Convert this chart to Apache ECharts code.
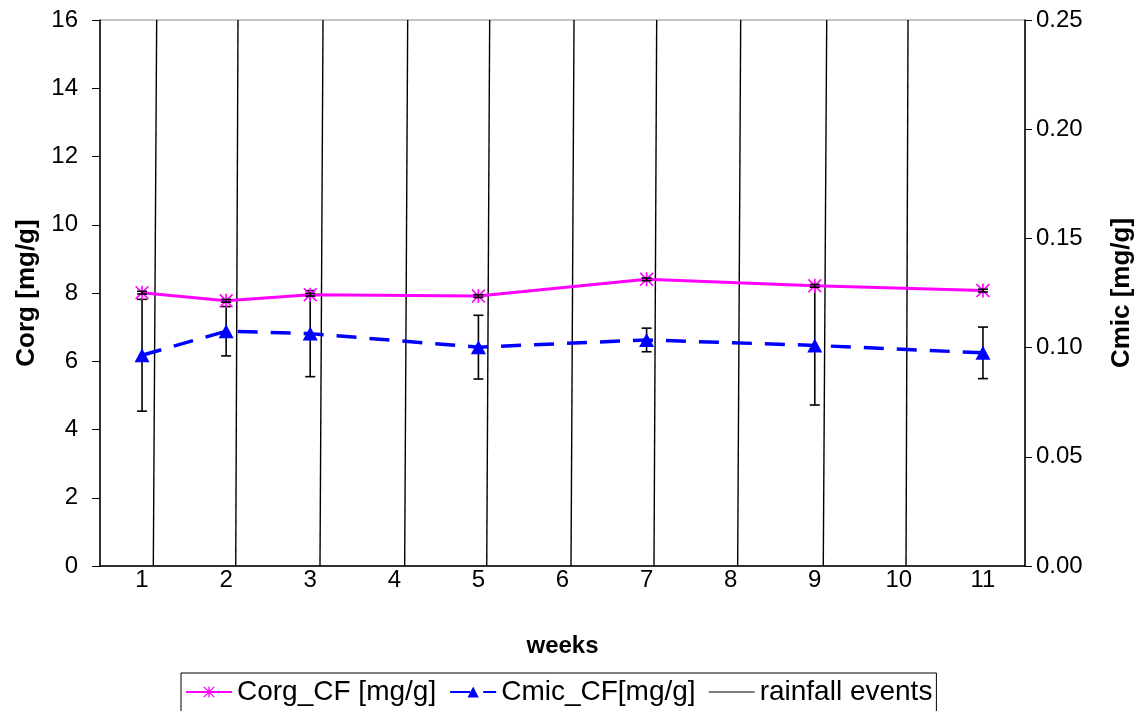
<!DOCTYPE html>
<html>
<head>
<meta charset="utf-8">
<script src="https://cdn.jsdelivr.net/npm/echarts@6/dist/echarts.min.js"></script>
<style>html,body{margin:0;padding:0;background:#fff;}#chart{width:1141px;height:711px;}</style>
</head>
<body>
<div id="chart"></div>
<script>
// ---- data ----
const weeks = ['1','2','3','4','5','6','7','8','9','10','11'];
const corg = [8.01, 7.77, 7.95, null, 7.91, null, 8.40, null, 8.21, null, 8.07];
const corgErr = [0.04, 0.04, 0.04, null, 0.04, null, 0.04, null, 0.04, null, 0.04];
const cmic = [0.0965, 0.1075, 0.1064, null, 0.1002, null, 0.1035, null, 0.1010, null, 0.0976];
const cmicErr = [0.0256, 0.0113, 0.0197, null, 0.0146, null, 0.0054, null, 0.0273, null, 0.0118];
// rainfall event lines: x position (in week units) at bottom (0) and top (16)
const rainBottom = [1.134, 2.114, 3.116, 4.123, 5.099, 6.101, 7.088, 8.083, 9.101, 10.085];
const rainTop    = [1.174, 2.141, 3.152, 4.159, 5.134, 6.137, 7.120, 8.119, 9.142, 10.109];
const leftTicks = {min: 0, max: 16, interval: 2};
const rightTicks = {min: 0, max: 0.25, interval: 0.05};

const FONT = 'Liberation Sans, Arial, sans-serif';
const asterisk = 'path://M5.3 0 L6.7 0 L6.7 12 L5.3 12 Z M0 1 L1 0 L12 11 L11 12 Z M11 0 L12 1 L1 12 L0 11 Z';

function errData(vals, errs) {
  const out = [];
  vals.forEach((v, i) => { if (v != null) out.push([i, v - errs[i], v + errs[i]]); });
  return out;
}
function errRender(params, api) {
  const lo = api.coord([api.value(0), api.value(1)]);
  const hi = api.coord([api.value(0), api.value(2)]);
  const w = 5;
  const st = {stroke: '#000', lineWidth: 1.6};
  return {type: 'group', children: [
    {type: 'line', shape: {x1: lo[0], y1: lo[1], x2: hi[0], y2: hi[1]}, style: st},
    {type: 'line', shape: {x1: lo[0]-w, y1: lo[1], x2: lo[0]+w, y2: lo[1]}, style: st},
    {type: 'line', shape: {x1: hi[0]-w, y1: hi[1], x2: hi[0]+w, y2: hi[1]}, style: st}
  ]};
}

const rainSeries = rainBottom.map((b, i) => ({
  name: 'rainfall events', type: 'line', xAxisIndex: 1, yAxisIndex: 0,
  data: [[b, leftTicks.min], [rainTop[i], leftTicks.max]],
  symbol: 'none', lineStyle: {color: '#000', width: 1.4}, itemStyle: {color: '#000'},
  silent: true, z: 1, animation: false
}));

const chart = echarts.init(document.getElementById('chart'), null, {renderer: 'canvas'});
chart.setOption({
  animation: false,
  backgroundColor: '#fff',
  textStyle: {fontFamily: FONT},
  grid: {left: 100, right: 116, top: 20, bottom: 145, show: true, borderColor: '#888', borderWidth: 1,
         outerBoundsMode: 'none', containLabel: false},
  legend: {
    data: [
      {name: 'Corg_CF [mg/g]'},
      {name: 'Cmic_CF[mg/g]'},
      {name: 'rainfall events', icon: 'path://M0 0 H50 V1.3 H0 Z'}
    ],
    left: 181, top: 673, itemGap: 13, itemWidth: 46, itemHeight: 14,
    borderColor: '#000', borderWidth: 1, padding: [5, 4, 20, 4],
    textStyle: {fontSize: 28, color: '#000', fontFamily: FONT}
  },
  xAxis: [
    {type: 'category', data: weeks, boundaryGap: true,
     axisLine: {lineStyle: {color: '#000', width: 1.5}}, axisTick: {show: false},
     axisLabel: {fontSize: 24, color: '#000', margin: 2},
     name: 'weeks', nameLocation: 'middle', nameGap: 68,
     nameTextStyle: {fontSize: 24, fontWeight: 'bold', color: '#000'},
     splitLine: {show: false}},
    {type: 'value', min: 0.5, max: 11.5, show: false}
  ],
  yAxis: [
    {type: 'value', min: leftTicks.min, max: leftTicks.max, interval: leftTicks.interval,
     axisLine: {show: true, lineStyle: {color: '#000', width: 1.5}},
     axisTick: {show: true, length: 8, lineStyle: {color: '#000'}},
     axisLabel: {fontSize: 24, color: '#000', margin: 22},
     splitLine: {show: false},
     name: 'Corg [mg/g]', nameLocation: 'middle', nameGap: 60, nameRotate: 90,
     nameTextStyle: {fontSize: 26, fontWeight: 'bold', color: '#000'}},
    {type: 'value', min: rightTicks.min, max: rightTicks.max, interval: rightTicks.interval,
     position: 'right',
     axisLine: {show: true, lineStyle: {color: '#000', width: 1.5}},
     axisTick: {show: true, length: 7, lineStyle: {color: '#000'}},
     axisLabel: {fontSize: 24, color: '#000', margin: 11, formatter: v => v.toFixed(2)},
     splitLine: {show: false},
     name: 'Cmic [mg/g]', nameLocation: 'middle', nameGap: 84, nameRotate: 90,
     nameTextStyle: {fontSize: 26, fontWeight: 'bold', color: '#000'}}
  ],
  series: [
    {name: 'Corg_CF [mg/g]', type: 'line', xAxisIndex: 0, yAxisIndex: 0, data: corg, connectNulls: true,
     symbol: asterisk, symbolSize: 14, showAllSymbol: true,
     lineStyle: {color: '#FF00FF', width: 3}, itemStyle: {color: '#FF00FF'}, z: 3},
    {name: 'Cmic_CF[mg/g]', type: 'line', xAxisIndex: 0, yAxisIndex: 1, data: cmic, connectNulls: true,
     symbol: 'triangle', symbolSize: [15, 14], showAllSymbol: true,
     lineStyle: {color: '#0000FF', width: 3.5, type: [20, 13]}, itemStyle: {color: '#0000FF'}, z: 3},
    {name: 'errCorg', type: 'custom', xAxisIndex: 0, yAxisIndex: 0, data: errData(corg, corgErr),
     renderItem: errRender, z: 4, silent: true},
    {name: 'errCmic', type: 'custom', xAxisIndex: 0, yAxisIndex: 1, data: errData(cmic, cmicErr),
     renderItem: errRender, z: 2, silent: true}
  ].concat(rainSeries)
});
</script>
</body>
</html>
